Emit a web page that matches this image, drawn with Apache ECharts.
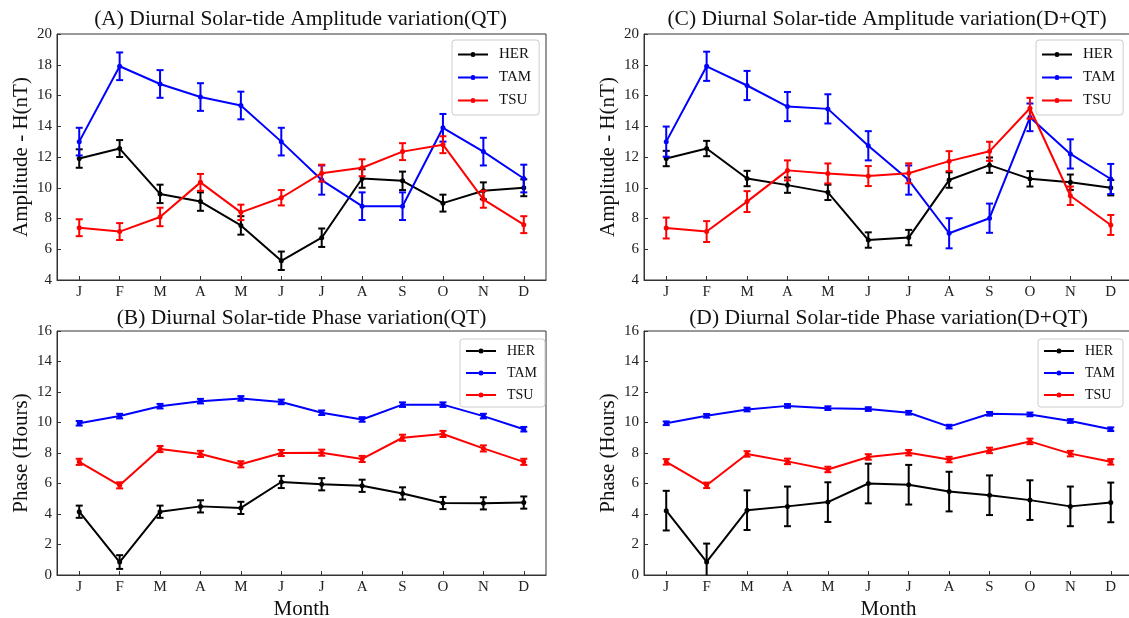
<!DOCTYPE html>
<html><head><meta charset="utf-8">
<script src="https://cdn.jsdelivr.net/npm/echarts@6/dist/echarts.min.js"></script>
<style>html,body{margin:0;padding:0;background:#fff;overflow:hidden;}#c{width:1129px;height:618px;}</style>
</head><body><div id="c"></div>
<script>
const months = ['J','F','M','A','M','J','J','A','S','O','N','D'];
const stations = ['HER','TAM','TSU'];
const colors = ['#000000','#0000ff','#ff0000'];

// (A) Amplitude QT
const ampQT_HER = [11.9,12.55,9.6,9.1,7.55,5.25,6.75,10.6,10.45,9.0,9.8,10.0];
const ampQT_TAM = [13.0,17.9,16.75,15.9,15.35,13.0,10.5,8.8,8.8,13.9,12.35,10.6];
const ampQT_TSU = [7.4,7.15,8.1,10.35,8.4,9.35,10.95,11.3,12.35,12.8,9.25,7.6];
const ampQT_HER_err = [0.6,0.55,0.6,0.6,0.6,0.6,0.6,0.6,0.6,0.55,0.55,0.55];
const ampQT_TAM_err = [0.9,0.9,0.9,0.9,0.9,0.9,0.95,0.9,0.9,0.9,0.9,0.9];
const ampQT_TSU_err = [0.55,0.55,0.6,0.55,0.5,0.5,0.55,0.55,0.55,0.55,0.55,0.55];

// (B) Phase QT
const phQT_HER = [4.15,0.85,4.15,4.5,4.4,6.1,5.95,5.85,5.35,4.72,4.7,4.75];
const phQT_TAM = [9.95,10.42,11.07,11.4,11.58,11.35,10.64,10.2,11.17,11.17,10.42,9.56];
const phQT_TSU = [7.42,5.88,8.26,7.94,7.26,8.0,8.02,7.61,9.0,9.25,8.3,7.42];
const phQT_HER_err = [0.4,0.45,0.4,0.4,0.4,0.4,0.4,0.4,0.4,0.4,0.4,0.4];
const phQT_TAM_err = [0.15,0.15,0.15,0.15,0.15,0.15,0.15,0.15,0.15,0.15,0.15,0.15];
const phQT_TSU_err = [0.2,0.2,0.2,0.2,0.2,0.2,0.2,0.2,0.2,0.2,0.2,0.2];

// (C) Amplitude D+QT
const ampDQT_HER = [11.9,12.55,10.6,10.17,9.7,6.6,6.76,10.5,11.47,10.58,10.36,10.0];
const ampDQT_TAM = [13.0,17.9,16.65,15.28,15.13,12.73,10.5,7.04,8.02,14.58,12.2,10.57];
const ampDQT_TSU = [7.38,7.15,9.1,11.13,10.93,10.76,10.94,11.73,12.37,15.17,9.48,7.58];
const ampDQT_HER_err = [0.5,0.5,0.5,0.5,0.5,0.5,0.5,0.5,0.5,0.5,0.5,0.5];
const ampDQT_TAM_err = [0.98,0.95,0.95,0.95,0.95,0.95,0.95,0.98,0.95,0.9,0.95,0.98];
const ampDQT_TSU_err = [0.68,0.68,0.68,0.65,0.65,0.65,0.65,0.65,0.62,0.68,0.6,0.65];

// (D) Phase D+QT
const phDQT_HER = [4.22,0.86,4.25,4.5,4.78,6.0,5.92,5.47,5.23,4.91,4.5,4.76];
const phDQT_TAM = [9.95,10.44,10.85,11.09,10.94,10.88,10.64,9.73,10.57,10.53,10.1,9.56];
const phDQT_TSU = [7.42,5.88,7.94,7.45,6.92,7.74,8.02,7.57,8.17,8.76,7.96,7.42];
const phDQT_HER_err = [1.3,1.2,1.3,1.3,1.3,1.3,1.3,1.3,1.3,1.3,1.3,1.3];
const phDQT_TAM_err = [0.12,0.12,0.12,0.12,0.12,0.12,0.12,0.12,0.12,0.12,0.12,0.12];
const phDQT_TSU_err = [0.18,0.18,0.18,0.18,0.18,0.18,0.18,0.18,0.18,0.18,0.18,0.18];

const panelTitles = [
  '(A) Diurnal Solar-tide Amplitude variation(QT)',
  '(B) Diurnal Solar-tide Phase variation(QT)',
  '(C) Diurnal Solar-tide Amplitude variation(D+QT)',
  '(D) Diurnal Solar-tide Phase variation(D+QT)'
];
const yNames = ['Amplitude - H(nT)','Phase (Hours)','Amplitude - H(nT)','Phase (Hours)'];
const yRanges = [[4,20],[0,16],[4,20],[0,16]];
const panelData = [
  [[ampQT_HER,ampQT_HER_err],[ampQT_TAM,ampQT_TAM_err],[ampQT_TSU,ampQT_TSU_err]],
  [[phQT_HER,phQT_HER_err],[phQT_TAM,phQT_TAM_err],[phQT_TSU,phQT_TSU_err]],
  [[ampDQT_HER,ampDQT_HER_err],[ampDQT_TAM,ampDQT_TAM_err],[ampDQT_TSU,ampDQT_TSU_err]],
  [[phDQT_HER,phDQT_HER_err],[phDQT_TAM,phDQT_TAM_err],[phDQT_TSU,phDQT_TSU_err]]
];

// layout
const grids = [
  {left:57, top:34, width:489, height:246},
  {left:57, top:331, width:489, height:244},
  {left:644, top:34, width:489, height:246},
  {left:644, top:331, width:489, height:244}
];
const legendPos = [
  {left:452, top:40, fs:15, gap:8, pad:[7,8,7,6]},
  {left:460, top:339, fs:14, gap:8, pad:[5,8,5,6]},
  {left:1036, top:40, fs:15, gap:8, pad:[7,8,7,6]},
  {left:1038, top:339, fs:14, gap:8, pad:[5,8,5,6]}
];
const titlePos = [[300.5,20],[301.5,319],[887,20],[888.5,319]];

const FONT = "'Liberation Serif', 'DejaVu Serif', serif";
const axisColor = '#333';
const idx = months.map((m,i)=>i);
const iconPath = 'path://M0,2h12.5v2h-12.5z M17.5,2h12.5v2h-12.5z M12.5,3a2.5,2.5 0 1,0 5,0a2.5,2.5 0 1,0 -5,0z';

function errRender(params, api){
  const x = api.value(0), lo = api.value(1), hi = api.value(2);
  const p1 = api.coord([x, lo]), p2 = api.coord([x, hi]);
  const cs = params.coordSys;
  const bottom = cs.y + cs.height, top = cs.y;
  const yb = Math.min(p1[1], bottom), yt = Math.max(p2[1], top);
  const w = 3.5, col = api.visual('color');
  const st = () => ({stroke: col, lineWidth: 2});
  const ch = [{type:'line', shape:{x1:p1[0], y1:yt, x2:p1[0], y2:yb}, style:st()}];
  if (p1[1] <= bottom) ch.push({type:'line', shape:{x1:p1[0]-w, y1:p1[1], x2:p1[0]+w, y2:p1[1]}, style:st()});
  if (p2[1] >= top) ch.push({type:'line', shape:{x1:p2[0]-w, y1:p2[1], x2:p2[0]+w, y2:p2[1]}, style:st()});
  return {type:'group', children: ch};
}

const option = {
  animation:false,
  backgroundColor:'#fff',
  grid: grids.map(g => Object.assign({show:true, borderColor:axisColor, borderWidth:1, backgroundColor:'transparent', containLabel:false, outerBoundsMode:'none'}, g)),
  title: panelTitles.map((t,i)=>({
    text:t, left:titlePos[i][0], top:titlePos[i][1]-12, textAlign:'center', padding:0,
    textStyle:{fontFamily:FONT, fontSize:21.5, fontWeight:'normal', color:'#111'}
  })),
  legend: legendPos.map(l=>({
    orient:'vertical', left:l.left, top:l.top, data:stations, icon:iconPath,
    itemWidth:30, itemHeight:5, itemGap:l.gap, padding:l.pad,
    textStyle:{fontFamily:FONT, fontSize:l.fs, color:'#111', padding:[0,0,0,6]},
    borderColor:'#cccccc', borderWidth:1, borderRadius:3, backgroundColor:'rgba(255,255,255,0.85)',
    selectedMode:false
  })),
  xAxis: grids.map((g,i)=>({
    type:'value', gridIndex:i, min:-0.55, max:11.55,
    name: (i===1||i===3) ? 'Month' : '', nameLocation:'middle', nameGap:24,
    nameTextStyle:{fontFamily:FONT, fontSize:21, color:'#111'},
    axisLine:{show:true, onZero:false, lineStyle:{color:axisColor, width:1}},
    axisTick:{show:true, inside:true, length:4, customValues:idx, lineStyle:{color:axisColor}},
    axisLabel:{show:true, customValues:idx, margin:5, fontFamily:FONT, fontSize:15, color:'#222',
      formatter:(v)=>months[Math.round(v)]},
    splitLine:{show:false}
  })),
  yAxis: grids.map((g,i)=>({
    type:'value', gridIndex:i, min:yRanges[i][0], max:yRanges[i][1], interval:2,
    name:yNames[i], nameLocation:'middle', nameGap:25,
    nameTextStyle:{fontFamily:FONT, fontSize:21, color:'#111'},
    axisLine:{show:true, onZero:false, lineStyle:{color:axisColor, width:1}},
    axisTick:{show:true, inside:true, length:4, lineStyle:{color:axisColor}},
    axisLabel:{margin:5, fontFamily:FONT, fontSize:15, color:'#222'},
    splitLine:{show:false}
  })),
  series: []
};

panelData.forEach((pd, p) => {
  pd.forEach((sd, s) => {
    const vals = sd[0], errs = sd[1];
    option.series.push({
      type:'line', name:stations[s], xAxisIndex:p, yAxisIndex:p,
      data: vals.map((v,i)=>[i,v]),
      symbol:'circle', symbolSize:5, showSymbol:true,
      lineStyle:{color:colors[s], width:2}, itemStyle:{color:colors[s]},
      z: 2 + s
    });
    option.series.push({
      type:'custom', name:stations[s]+' err', xAxisIndex:p, yAxisIndex:p,
      itemStyle:{color:colors[s]},
      data: vals.map((v,i)=>[i, v-errs[i], v+errs[i]]),
      renderItem: errRender,
      encode:{x:0, y:[1,2]},
      z: 2 + s
    });
  });
});

const chart = echarts.init(document.getElementById('c'), null, {renderer:'canvas'});
chart.setOption(option);
</script>
</body></html>
